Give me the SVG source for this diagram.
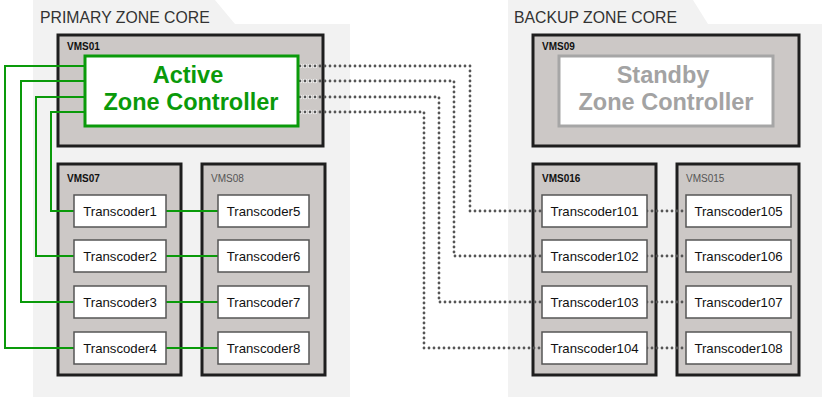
<svg xmlns="http://www.w3.org/2000/svg" width="822" height="400" viewBox="0 0 822 400">
  <defs>
    <style>
      .zone { fill: #f2f2f2; }
      .zone-title { font-family: "Liberation Sans", Arial, sans-serif; font-size: 15.8px; fill: #333; }
      .vms { fill: #ccc8c6; stroke: #1e1e1e; stroke-width: 3; }
      .vms-label { font-family: "Liberation Sans", Arial, sans-serif; font-size: 10px; font-weight: bold; fill: #111; }
      .vms-label-dim { font-family: "Liberation Sans", Arial, sans-serif; font-size: 10px; fill: #555; }
      .tc { fill: #fff; stroke: #555; stroke-width: 1.5; }
      .tc-text { font-family: "Liberation Sans", Arial, sans-serif; font-size: 13.2px; fill: #111; text-anchor: middle; }
      .ctrl-active { fill: #fff; stroke: #0a9a0a; stroke-width: 3; }
      .ctrl-active-text { font-family: "Liberation Sans", Arial, sans-serif; font-size: 23.5px; font-weight: bold; fill: #0a9a0a; text-anchor: middle; }
      .ctrl-standby { fill: #fff; stroke: #a6a6a6; stroke-width: 3; }
      .ctrl-standby-text { font-family: "Liberation Sans", Arial, sans-serif; font-size: 23.5px; font-weight: bold; fill: #a3a3a3; text-anchor: middle; }
      .link { fill: none; stroke: #0a9a0a; stroke-width: 2; }
      .dot-halo { fill: none; stroke: #fff; stroke-width: 4.4; stroke-linecap: round; stroke-dasharray: 0 5; }
      .dot { fill: none; stroke: #555; stroke-width: 2.8; stroke-linecap: round; stroke-dasharray: 0 5; }
    </style>
  </defs>

  <!-- zone backgrounds -->
  <g id="primary-zone">
    <path class="zone" d="M33,0 H215 L235,24 H350 V397 H33 Z"/>
    <text class="zone-title" x="40" y="22.5">PRIMARY ZONE CORE</text>
  </g>
  <g id="backup-zone">
    <path class="zone" d="M508,0 H693 L708,24 H822 V397 H508 Z"/>
    <text class="zone-title" x="514" y="22.5">BACKUP ZONE CORE</text>
  </g>

  <!-- servers -->
  <g id="vms01">
    <rect class="vms" x="58" y="35" width="265" height="111"/>
    <text class="vms-label" x="67" y="50">VMS01</text>
  </g>
  <g id="vms07">
    <rect class="vms" x="58" y="164" width="123" height="211"/>
    <text class="vms-label" x="67" y="182">VMS07</text>
  </g>
  <g id="vms08">
    <rect class="vms" x="202" y="164" width="123" height="211"/>
    <text class="vms-label-dim" x="211" y="182">VMS08</text>
  </g>
  <g id="vms09">
    <rect class="vms" x="533" y="35" width="266" height="111"/>
    <text class="vms-label" x="542" y="50">VMS09</text>
  </g>
  <g id="vms016">
    <rect class="vms" x="533" y="164" width="123" height="211"/>
    <text class="vms-label" x="542" y="182">VMS016</text>
  </g>
  <g id="vms015">
    <rect class="vms" x="677" y="164" width="122" height="211"/>
    <text class="vms-label-dim" x="686" y="182">VMS015</text>
  </g>

  <!-- connectors -->
  <g id="connectors">
    <!-- active controller to primary transcoders -->
    <path class="link" d="M85,112 H51 V211 H74"/>
    <path class="link" d="M85,97 H36 V256 H74"/>
    <path class="link" d="M85,81 H21 V302 H74"/>
    <path class="link" d="M85,66 H5 V348 H74"/>
    <path class="link" d="M166,211 H218"/>
    <path class="link" d="M166,256 H218"/>
    <path class="link" d="M166,302 H218"/>
    <path class="link" d="M166,348 H218"/>
    <!-- white halo where the dotted paths cross the server box -->
    <g>
      <path class="dot-halo" d="M300,66 H320"/>
      <path class="dot-halo" d="M300,81 H320"/>
      <path class="dot-halo" d="M300,97 H320"/>
      <path class="dot-halo" d="M300,112 H320"/>
    </g>
    <!-- standby paths to backup transcoders -->
    <g>
      <path class="dot" d="M300,66 H470 V211 H542"/>
      <path class="dot" d="M300,81 H454 V256 H542"/>
      <path class="dot" d="M300,97 H439 V302 H542"/>
      <path class="dot" d="M300,112 H424 V348 H542"/>
      <path class="dot" d="M647,211 H686"/>
      <path class="dot" d="M647,256 H686"/>
      <path class="dot" d="M647,302 H686"/>
      <path class="dot" d="M647,348 H686"/>
    </g>
  </g>

  <!-- zone controllers -->
  <g id="active-controller">
    <rect class="ctrl-active" x="85" y="56" width="213" height="70"/>
    <text class="ctrl-active-text" x="188" y="83">Active</text>
    <text class="ctrl-active-text" x="191" y="110">Zone Controller</text>
  </g>
  <g id="standby-controller">
    <rect class="ctrl-standby" x="559" y="56" width="214" height="70"/>
    <text class="ctrl-standby-text" x="663" y="83">Standby</text>
    <text class="ctrl-standby-text" x="666" y="110">Zone Controller</text>
  </g>

  <!-- transcoders -->
  <g id="transcoder1"><rect class="tc" x="74" y="195" width="92" height="32"/><text class="tc-text" x="120" y="215.5">Transcoder1</text></g>
  <g id="transcoder2"><rect class="tc" x="74" y="240" width="92" height="32"/><text class="tc-text" x="120" y="260.5">Transcoder2</text></g>
  <g id="transcoder3"><rect class="tc" x="74" y="286" width="92" height="32"/><text class="tc-text" x="120" y="306.5">Transcoder3</text></g>
  <g id="transcoder4"><rect class="tc" x="74" y="332" width="92" height="32"/><text class="tc-text" x="120" y="352.5">Transcoder4</text></g>
  <g id="transcoder5"><rect class="tc" x="218" y="195" width="91" height="32"/><text class="tc-text" x="263.5" y="215.5">Transcoder5</text></g>
  <g id="transcoder6"><rect class="tc" x="218" y="240" width="91" height="32"/><text class="tc-text" x="263.5" y="260.5">Transcoder6</text></g>
  <g id="transcoder7"><rect class="tc" x="218" y="286" width="91" height="32"/><text class="tc-text" x="263.5" y="306.5">Transcoder7</text></g>
  <g id="transcoder8"><rect class="tc" x="218" y="332" width="91" height="32"/><text class="tc-text" x="263.5" y="352.5">Transcoder8</text></g>
  <g id="transcoder101"><rect class="tc" x="542" y="195" width="105" height="32"/><text class="tc-text" x="594.5" y="215.5">Transcoder101</text></g>
  <g id="transcoder102"><rect class="tc" x="542" y="240" width="105" height="32"/><text class="tc-text" x="594.5" y="260.5">Transcoder102</text></g>
  <g id="transcoder103"><rect class="tc" x="542" y="286" width="105" height="32"/><text class="tc-text" x="594.5" y="306.5">Transcoder103</text></g>
  <g id="transcoder104"><rect class="tc" x="542" y="332" width="105" height="32"/><text class="tc-text" x="594.5" y="352.5">Transcoder104</text></g>
  <g id="transcoder105"><rect class="tc" x="686" y="195" width="105" height="32"/><text class="tc-text" x="738.5" y="215.5">Transcoder105</text></g>
  <g id="transcoder106"><rect class="tc" x="686" y="240" width="105" height="32"/><text class="tc-text" x="738.5" y="260.5">Transcoder106</text></g>
  <g id="transcoder107"><rect class="tc" x="686" y="286" width="105" height="32"/><text class="tc-text" x="738.5" y="306.5">Transcoder107</text></g>
  <g id="transcoder108"><rect class="tc" x="686" y="332" width="105" height="32"/><text class="tc-text" x="738.5" y="352.5">Transcoder108</text></g>
</svg>
